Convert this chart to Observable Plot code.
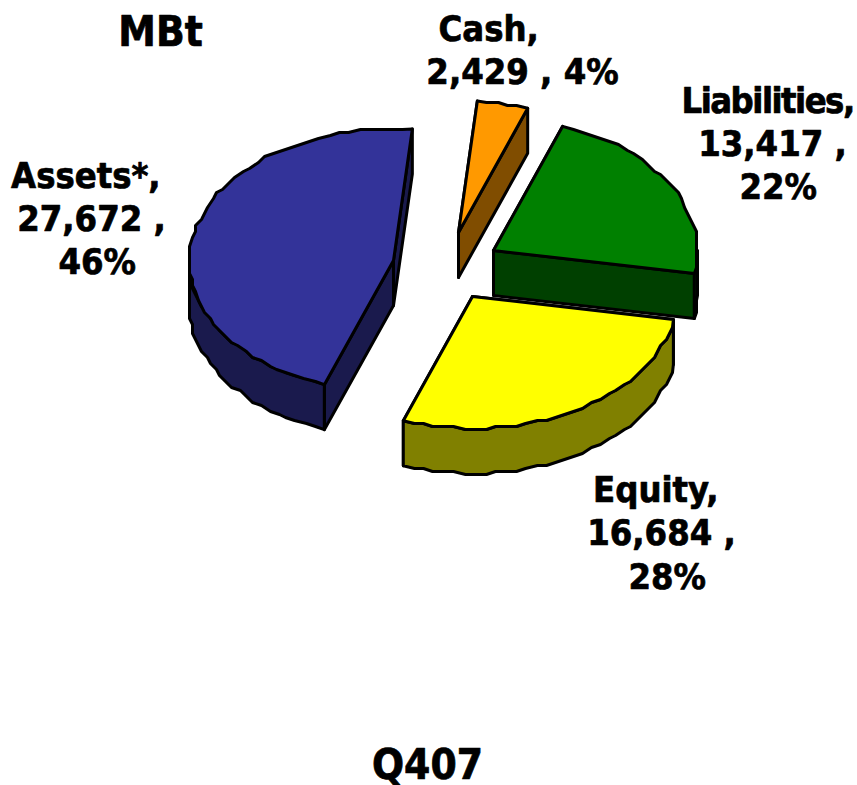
<!DOCTYPE html>
<html>
<head>
<meta charset="utf-8">
<script src="https://cdn.jsdelivr.net/npm/d3@7"></script>
<script src="https://cdn.jsdelivr.net/npm/@observablehq/plot@0.6"></script>
<style>html,body{margin:0;padding:0;background:#fff}svg{display:block}</style>
</head>
<body>
<div id="chart"></div>
<script>
// Data, clockwise from the first slice
const names = ["Cash", "Liabilities", "Equity", "Assets*"];
const values = [2429, 13417, 16684, 27672];
const percents = [4, 22, 28, 46];
const chartTitle = "MBt";
const chartCaption = "Q407";

// Styling
const topColors = ["#ff9900", "#008000", "#ffff00", "#333399"];
const sideColors = ["#804d00", "#004000", "#808000", "#1a1a4d"];

// Layout: pie apex of each exploded slice, and ellipse shape
const apexX = [458, 493, 472, 393];
const apexY = [232, 250, 296, 260];
const radiusX = 204, radiusY = 132, depth = 45, firstAngle = 5.3, angleStep = 3, snap = 3;
const labelX = [522, 772, 661, 91];
const labelY = [10, 81.5, 471, 156.5];

const total = d3.sum(values);
const fmt = d3.format(",");
const labels = names.map((n, i) => i === 0
  ? `${n},\u00a0\u00a0\u00a0\u00a0\u00a0\u00a0\n${fmt(values[i])} , ${percents[i]}%`
  : `${n},\u00a0\n${fmt(values[i])} ,\n\u00a0${percents[i]}%`);

const marks = [];
const poly = (pts, fill) => marks.push(Plot.line([...pts, pts[0]], {
  x: "x", y: "y", fill, stroke: "#000", strokeWidth: 3, strokeLinejoin: "round"
}));

let cum = 0;
values.forEach((v, i) => {
  const a0 = firstAngle + cum / total * 360;
  cum += v;
  const a1 = firstAngle + cum / total * 360;
  const ax = apexX[i], ay = apexY[i];
  const pt = (deg) => {
    const t = deg * Math.PI / 180;
    return {x: ax + radiusX * Math.sin(t), y: ay - radiusY * Math.cos(t)};
  };
  const wob = p => ({x: Math.round(p.x / snap) * snap, y: Math.round(p.y / snap) * snap});
  const arcBetween = (d0, d1) => {
    const out = [];
    const n = Math.max(1, Math.ceil((d1 - d0) / angleStep));
    for (let k = 0; k <= n; k++) {
      const d = d0 + (d1 - d0) * k / n;
      out.push(k === 0 || k === n ? pt(d) : wob(pt(d)));
    }
    return out;
  };
  const arc = arcBetween(a0, a1);
  const s = pt(a0), e = pt(a1);
  const down = p => ({x: p.x, y: p.y + depth});
  const apex = {x: ax, y: ay};
  // radial walls, front-facing outer wall, then the top face
  poly([apex, s, down(s), down(apex)], sideColors[i]);
  poly([apex, e, down(e), down(apex)], sideColors[i]);
  const f0 = Math.max(a0, 90), f1 = Math.min(a1, 270);
  if (f1 > f0) {
    const front = arcBetween(f0, f1);
    poly([...front, ...front.slice().reverse().map(down)], sideColors[i]);
  }
  poly([apex, ...arc], topColors[i]);
});

const textBase = {
  fontFamily: "'DejaVu Sans Condensed', 'DejaVu Sans'", fontWeight: "bold", fontStretch: "condensed",
  fill: "#000", stroke: "#000", strokeWidth: 0.7, lineAnchor: "top"
};
marks.push(Plot.text(labels, {
  x: (d, i) => labelX[i], y: (d, i) => labelY[i], text: d => d,
  fontSize: 36, lineHeight: 1.2, ...textBase
}));
marks.push(Plot.text([chartTitle], {x: () => 160, y: () => 16, text: d => d, fontSize: 42, ...textBase}));
marks.push(Plot.text([chartCaption], {x: () => 427, y: () => 749, text: d => d, fontSize: 42, ...textBase}));

const plot = Plot.plot({
  width: 857, height: 785,
  margin: 0,
  x: {axis: null, domain: [0, 857], range: [0, 857]},
  y: {axis: null, domain: [0, 785], range: [0, 785]},
  marks
});
// "Liabilities," is set tighter than the other labels
plot.querySelectorAll("tspan").forEach(t => {
  if (t.textContent.startsWith(names[1])) t.style.letterSpacing = "-1.5px";
});
document.getElementById("chart").append(plot);
</script>
</body>
</html>
